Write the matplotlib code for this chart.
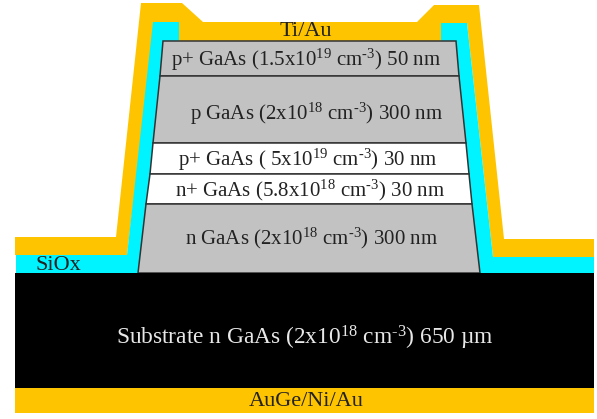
# -*- coding: utf-8 -*-
import matplotlib
matplotlib.use('Agg')
import matplotlib.pyplot as plt
from matplotlib.patches import Polygon, Rectangle

plt.rcParams['font.family'] = ['Liberation Serif', 'DejaVu Serif']
plt.rcParams['mathtext.fontset'] = 'custom'
plt.rcParams['mathtext.rm'] = 'Liberation Serif'
plt.rcParams['mathtext.default'] = 'rm'

#%% data (picture pixels)
gold = '#ffc400'
cyan = '#00f4ff'
grey = '#c2c2c2'
edge = '#333333'

layer_names = [
    r'p+ GaAs (1.5x10$^{19}$ cm$^{\text{-3}}$) 50 nm',
    r'p GaAs (2x10$^{18}$ cm$^{\text{-3}}$) 300 nm',
    r'p+ GaAs ( 5x10$^{19}$ cm$^{\text{-3}}$) 30 nm',
    r'n+ GaAs (5.8x10$^{18}$ cm$^{\text{-3}}$) 30 nm',
    r'n GaAs (2x10$^{18}$ cm$^{\text{-3}}$) 300 nm',
]
layer_colors = [grey, grey, 'white', 'white', grey]
layer_y = [41, 76, 143, 174, 204, 273]
layer_left = [163, 160, 153, 150, 146, 138]
layer_right = [456, 459, 466, 469, 472, 480]
label_x = [306, 316, 308, 310, 311]
label_y = [60, 114, 160, 190, 238]

metal_x = [15, 116, 141, 182, 203, 417, 434, 479, 504, 594, 594, 493, 467, 467, 153, 127, 15]
metal_y = [237, 237, 3, 3, 22, 22, 5, 5, 239, 239, 257, 257, 23, 41, 41, 255, 255]
oxide_x = [16, 127, 153, 179, 179, 441, 441, 467, 493, 594, 594, 16]
oxide_y = [255, 255, 22, 22, 41, 41, 23, 23, 257, 257, 273, 273]

wafer_left, wafer_right = 15, 594
substrate_y = [273, 388]
contact_y = [388, 413]

#%% figure
fig = plt.figure(figsize=(5.97, 4.19), dpi=100)
ax = fig.add_axes([0, 0, 1, 1])
ax.set_xlim(0, 597)
ax.set_ylim(419, 0)
ax.axis('off')

ax.add_patch(Polygon(list(zip(metal_x, metal_y)), closed=True, fc=gold, ec='none'))
ax.add_patch(Polygon(list(zip(oxide_x, oxide_y)), closed=True, fc=cyan, ec='none'))

for i, name in enumerate(layer_names):
    corners = [(layer_left[i], layer_y[i]), (layer_right[i], layer_y[i]),
               (layer_right[i+1], layer_y[i+1]), (layer_left[i+1], layer_y[i+1])]
    ax.add_patch(Polygon(corners, closed=True, fc=layer_colors[i], ec=edge, lw=1.1))
    ax.text(label_x[i], label_y[i], name, ha='center', va='center', size=15, color='#222222')

ax.add_patch(Rectangle((wafer_left, substrate_y[0]), wafer_right - wafer_left,
                       substrate_y[1] - substrate_y[0], fc='black', ec='none'))
ax.add_patch(Rectangle((wafer_left, contact_y[0]), wafer_right - wafer_left,
                       contact_y[1] - contact_y[0], fc=gold, ec='none'))

ax.text(306, 32, 'Ti/Au', ha='center', va='center', size=16, color='#222222')
ax.text(58, 265, 'SiOx', ha='center', va='center', size=16, color='#222222')
ax.text(305, 338, 'Substrate n GaAs (2x10$^{18}$ cm$^{\\text{-3}}$) 650 µm', ha='center', va='center',
        size=16.8, color='#e8e8e8')
ax.text(306, 401, 'AuGe/Ni/Au', ha='center', va='center', size=16, color='#222222')

fig.savefig('out.png', dpi=100)
